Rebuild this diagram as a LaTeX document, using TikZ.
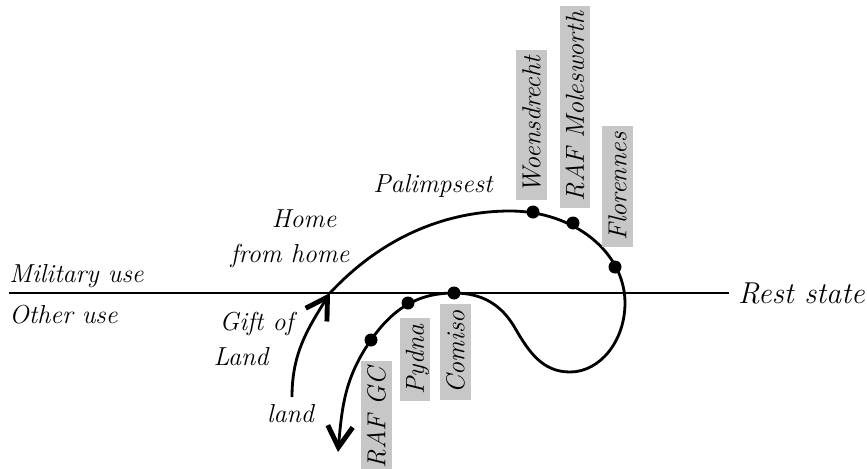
\documentclass[tikz,border=0pt]{standalone}
\usetikzlibrary{arrows.meta,calc,positioning}

\tikzset{
  lbl/.style={font=\fontsize{14.8}{17}\selectfont\itshape, inner sep=0pt},
  tag/.style={font=\fontsize{14.8}{17}\selectfont\itshape, fill=black!22, rotate=90,
    text height=10.5pt, text depth=0.5pt, inner ysep=3.3pt, inner xsep=3.5pt},
  curve/.style={line width=1.6pt},
  barb/.style={-{Straight Barb[length=4.2mm,width=5mm,line width=2.8pt]}},
}

\begin{document}
\begin{tikzpicture}[x=0.02cm,y=0.02cm]
\useasboundingbox (0,0) rectangle (867,468);
\clip (0,0) rectangle (867,468);

\coordinate (l0) at (  9,175);
\coordinate (g0) at (292, 71);
\coordinate (x0) at (330,175);
\coordinate (t0) at (510,257);
\coordinate (r0) at (625,165);
\coordinate (b0) at (570, 96);
\coordinate (m0) at (515,140);
\coordinate (e0) at (338, 16);

% stops along the curve
\coordinate (p1) at (533,256);
\coordinate (p2) at (573,245);
\coordinate (p3) at (615,201);
\coordinate (q1) at (371,128);
\coordinate (q2) at (408,165);
\coordinate (q3) at (454,175);

% rest state line
\node[lbl, anchor=base west, inner xsep=5pt, font=\fontsize{17.2}{21}\selectfont\itshape] (rest) at (729,165) {Rest state};
\draw[line width=1.1pt] (l0) -- (l0 -| rest.west);

\node[lbl, anchor=base west] (mil) at (9,186) {Military use};
\node[lbl, anchor=base west] (oth) at (9,145) {Other use};
\node[lbl, anchor=base] (home1) at (304,241) {Home};
\node[lbl, anchor=base] (home2) at (290,206) {from home};
\node[lbl, anchor=base] (gift1) at (256.5,138) {Gift of};
\node[lbl, anchor=base] (gift2) at (241,103) {Land};
\node[lbl, anchor=base] (land) at (290.5,46) {land};
\node[lbl, anchor=base] (pal) at (433,276) {Palimpsest};

% the curve
\draw[curve,barb] (g0) to[out=90,in=238] (x0);
\draw[curve,barb] (x0) .. controls (385,234) and (450,257) .. (t0)
  .. controls (573.5,257) and (625,216) .. (r0)
  .. controls (625,127) and (600,96) .. (b0)
  to[out=180,in=-60] (m0)
  to[out=120,in=0] (q3)
  to[out=180,in=55] (q1)
  to[out=235,in=85] (e0);

\foreach \x in {1,...,3}{\fill (p\x) circle (6.5);}
\foreach \x in {1,...,3}{\fill (q\x) circle (6.5);}

% tags
\node[tag, anchor=west] (woens) at (531.5,268) {Woensdrecht};
\node[tag, anchor=west] (moles) at (575,260) {RAF Molesworth};
\node[tag, anchor=west] (flor) at (617.5,221) {Florennes};
\node[tag, anchor=east] (rafgc) at (376.5,107) {RAF GC};
\node[tag, anchor=east] (pydna) at (415,150) {Pydna};
\node[tag, anchor=east] (comiso) at (455.5,164) {Comiso};

\end{tikzpicture}
\end{document}
